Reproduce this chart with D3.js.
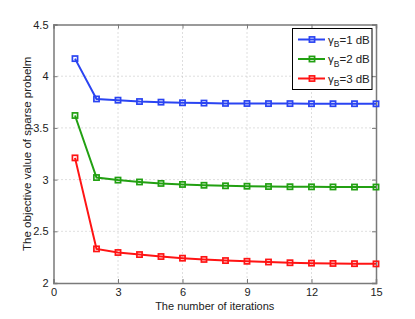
<!DOCTYPE html>
<html><head><meta charset="utf-8">
<script src="https://cdn.jsdelivr.net/npm/d3@7"></script>
<style>body{margin:0;background:#fff}svg{display:block}text{font-family:"Liberation Sans",Arial,sans-serif}</style>
</head><body><svg id="c" width="415" height="319"></svg>
<script>
const iterations = d3.range(1, 16);
const seriesNames = ["1", "2", "3"];
const blueVals  = [4.17, 3.78, 3.768, 3.755, 3.749, 3.743, 3.74, 3.737, 3.736, 3.735, 3.735, 3.734, 3.734, 3.734, 3.733];
const greenVals = [3.62, 3.02, 2.995, 2.977, 2.963, 2.953, 2.945, 2.94, 2.936, 2.933, 2.931, 2.93, 2.929, 2.928, 2.928];
const redVals   = [3.21, 2.33, 2.295, 2.275, 2.256, 2.24, 2.228, 2.217, 2.21, 2.203, 2.196, 2.192, 2.189, 2.187, 2.185];
const xTicks = [0, 3, 6, 9, 12, 15];
const yTicks = [2, 2.5, 3, 3.5, 4, 4.5];
const colors = ["#2a44f2", "#22a012", "#ff1414"];
const series = [blueVals, greenVals, redVals];

const svg = d3.select("#c");
const L = 53.5, R = 376, T = 24.5, B = 283;
const x = d3.scaleLinear().domain([0, 15]).range([L, R]);
const y = d3.scaleLinear().domain([2, 4.5]).range([B, T]);

// grid
const g = svg.append("g");
xTicks.slice(1, -1).forEach(t => g.append("line").attr("x1", x(t)).attr("x2", x(t)).attr("y1", T).attr("y2", B)
  .attr("stroke", "#bdbdbd").attr("stroke-width", 1).attr("stroke-dasharray", "1,3"));
yTicks.slice(1, -1).forEach(t => g.append("line").attr("x1", L).attr("x2", R).attr("y1", y(t)).attr("y2", y(t))
  .attr("stroke", "#bdbdbd").attr("stroke-width", 1).attr("stroke-dasharray", "1,3"));

// axes
const axB = d3.axisBottom(x).tickValues(xTicks).tickSize(-4).tickPadding(5).tickFormat(d3.format("d"));
const axL = d3.axisLeft(y).tickValues(yTicks).tickSize(-4).tickPadding(5).tickFormat(d => d3.format("")(d));
const axT = d3.axisTop(x).tickValues(xTicks).tickSize(-4).tickFormat("");
const axR = d3.axisRight(y).tickValues(yTicks).tickSize(-4).tickFormat("");
[[axB, `translate(0,${B})`], [axL, `translate(${L},0)`], [axT, `translate(0,${T})`], [axR, `translate(${R},0)`]].forEach(([a, tr]) => {
  const ga = svg.append("g").attr("transform", tr).call(a);
  ga.select(".domain").attr("stroke", "#7a7a7a").attr("stroke-width", 1.5);
  ga.selectAll(".tick line").attr("stroke", "#7a7a7a");
  ga.selectAll("text").attr("fill", "#222").attr("font-size", 11);
});

// lines
const line = d3.line().x((d, i) => x(iterations[i])).y(d => y(d));
series.forEach((vals, k) => {
  svg.append("path").datum(vals).attr("d", line).attr("fill", "none")
    .attr("stroke", colors[k]).attr("stroke-width", 2);
  svg.selectAll(null).data(vals).enter().append("rect")
    .attr("x", (d, i) => x(iterations[i]) - 2.6).attr("y", d => y(d) - 2.6)
    .attr("width", 5.2).attr("height", 5.2)
    .attr("fill", "none").attr("stroke", colors[k]).attr("stroke-width", 1.7);
});

// labels
svg.append("text").attr("x", (L + R) / 2).attr("y", 310).attr("text-anchor", "middle")
  .attr("font-size", 11).attr("fill", "#222").text("The number of iterations");
svg.append("text").attr("transform", `translate(31,${(T + B) / 2}) rotate(-90)`).attr("text-anchor", "middle")
  .attr("font-size", 11.5).attr("fill", "#222").text("The objective value of sparse probelm");

// legend
const lg = svg.append("g");
lg.append("rect").attr("x", 292.5).attr("y", 28.5).attr("width", 79.5).attr("height", 61)
  .attr("fill", "#fff").attr("stroke", "#000").attr("stroke-width", 1);
seriesNames.forEach((n, k) => {
  const cy = 39.5 + k * 19.5;
  lg.append("line").attr("x1", 298).attr("x2", 325).attr("y1", cy).attr("y2", cy)
    .attr("stroke", colors[k]).attr("stroke-width", 2);
  lg.append("rect").attr("x", 312 - 2.6).attr("y", cy - 2.6).attr("width", 5.2).attr("height", 5.2)
    .attr("fill", "none").attr("stroke", colors[k]).attr("stroke-width", 1.7);
  const t = lg.append("text").attr("x", 328).attr("y", cy + 4).attr("font-size", 11.5).attr("fill", "#222");
  t.append("tspan").text("γ");
  t.append("tspan").attr("font-size", 8.5).attr("dy", 3.5).text("B");
  t.append("tspan").attr("dy", -3.5).text(`=${n} dB`);
});
</script></body></html>
